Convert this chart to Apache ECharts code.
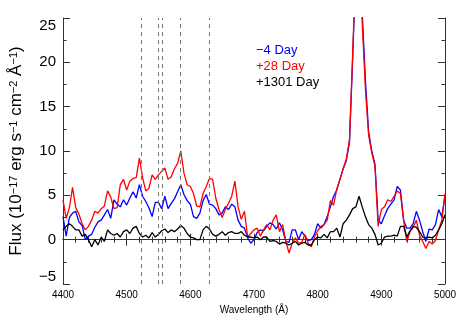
<!DOCTYPE html>
<html>
<head>
<meta charset="utf-8">
<script src="https://cdn.jsdelivr.net/npm/echarts@6/dist/echarts.min.js"></script>
<style>
  html, body { margin: 0; padding: 0; background: #fff; }
</style>
</head>
<body>
<div id="chart" style="width: 463px; height: 324px"></div>
<script>
// wavelength grid (Å)
const wavelength = [
  4400, 4405, 4410, 4415, 4420, 4425, 4430, 4435, 4440, 4445,
  4450, 4455, 4460, 4465, 4470, 4475, 4480, 4485, 4490, 4495,
  4500, 4505, 4510, 4515, 4520, 4525, 4530, 4535, 4540, 4545,
  4550, 4555, 4560, 4565, 4570, 4575, 4580, 4585, 4590, 4595,
  4600, 4605, 4610, 4615, 4620, 4625, 4630, 4635, 4640, 4645,
  4650, 4655, 4660, 4665, 4670, 4675, 4680, 4685, 4690, 4695,
  4700, 4705, 4710, 4715, 4720, 4725, 4730, 4735, 4740, 4745,
  4750, 4755, 4760, 4765, 4770, 4775, 4780, 4785, 4790, 4795,
  4800, 4805, 4810, 4815, 4820, 4825, 4830, 4835, 4840, 4845,
  4850, 4855, 4860, 4865, 4870, 4875, 4880, 4885, 4890, 4895,
  4900, 4905, 4910, 4915, 4920, 4925, 4930, 4935, 4940, 4945,
  4950, 4955, 4960, 4965, 4970, 4975, 4980, 4985, 4990, 4995,
  5000
]

// -4 Day
const fluxBlue = [
  2.6, 0.4, 2.5, 3.0, 3.2, 2.0, 1.6, 0.0, 0.4, 0.6,
  1.4, 2.0, 2.2, 2.8, 3.4, 2.4, 4.5, 4.0, 3.7, 4.5,
  3.9, 4.7, 5.4, 4.7, 6.2, 4.9, 4.3, 3.6, 2.6, 4.2,
  4.2, 3.5, 4.9, 3.5, 4.1, 4.6, 5.4, 6.2, 5.1, 4.4,
  4.0, 2.6, 2.4, 3.0, 4.4, 5.1, 4.0, 3.9, 3.5, 2.8,
  3.0, 3.7, 3.4, 4.0, 3.7, 2.2, 1.5, 1.3, 0.2, -0.4,
  0.0, 0.8, 1.1, 1.0, 1.5, 1.9, 1.7, 1.2, 1.9, 1.1,
  -0.2, -0.3, 1.1, 1.1, 0.0, 0.9, 0.4, -0.1, 0.0, 0.6,
  1.8, 1.3, 1.7, 2.6, 3.7, 4.9, 5.6, 6.8, 8.0, 8.9,
  11.0, 20.5, 31, 34, 25.5, 18, 12.2, 10.0, 8.5, 2.2,
  1.8, 2.7, 3.5, 4.0, 4.5, 6.0, 5.6, 2.2, 1.3, 1.3,
  1.8, 3.2, 2.2, 0.9, -0.2, 1.2, 1.1, 1.7, 3.4, 2.6,
  4.9
]

// +28 Day
const fluxRed = [
  4.5, 2.4, 3.6, 5.9, 3.6, 2.9, 1.8, 1.1, 1.5, 2.2,
  3.2, 3.0, 3.5, 3.8, 5.5, 4.8, 3.5, 3.6, 6.2, 6.8,
  5.6, 6.6, 6.9, 7.0, 9.2, 7.0, 5.5, 5.8, 7.3, 6.8,
  7.3, 7.7, 8.1, 6.8, 7.1, 8.0, 8.6, 10.0, 7.5, 6.2,
  6.0, 5.2, 3.8, 3.7, 5.2, 6.0, 6.9, 6.8, 4.7, 3.4,
  2.5, 3.4, 4.1, 4.9, 6.6, 3.7, 2.3, 3.2, 0.3, 0.7,
  1.1, 1.3, 0.4, 1.1, 1.7, 1.1, 2.2, 2.8, 0.9, 1.7,
  -0.2, -1.5, -0.4, 0.2, -0.4, -0.3, 0.6, -0.4, -0.8, 0.3,
  1.0, 1.5, 1.7, 2.2, 4.4, 3.9, 5.7, 6.8, 8.0, 9.1,
  11.3, 21, 31, 33, 24.5, 17, 11.8, 9.8, 8.3, 1.5,
  3.4, 3.7, 4.5, 4.3, 4.9, 5.5, 5.2, 2.2, -0.2, 0.9,
  1.4, 2.2, 0.5, -0.2, -1.0, -0.2, -0.5, -0.1, 1.1, 2.2,
  5.2
]

// +1301 Day
const fluxBlack = [
  1.1, 1.5, 1.8, 1.5, 1.1, 1.1, 0.4, 0.6, 0.0, -0.8,
  0.0, -0.6, 0.3, -0.2, 1.1, 0.7, 0.5, 0.7, 0.3, 0.9,
  1.1, 0.7, 1.3, 1.5, 0.7, 0.3, 0.5, 0.2, 0.8, 0.3,
  0.6, 1.0, 1.2, 0.8, 1.1, 0.9, 1.2, 1.6, 1.3, 0.7,
  0.3, 0.2, 0.0, 0.0, 1.1, 1.5, 1.2, 0.6, 0.4, 0.6,
  0.9, 0.5, 0.8, 0.9, 0.7, 0.7, 0.9, 0.5, 0.3, 0.3,
  0.2, 0.3, 0.0, 0.3, 0.3, -0.2, -0.1, -0.2, -0.5, -0.3,
  -0.4, -0.6, -0.4, -0.2, -0.6, -0.4, -0.3, -0.6, -0.6, 0.0,
  0.3, 0.2, 0.6, 0.2, 0.9, 0.9, 1.3, 0.3, 1.8, 2.2,
  2.8, 3.5, 3.7, 4.9, 3.7, 2.6, 1.7, 1.3, 0.6, -0.6,
  -0.4, 0.3, 0.4, 0.4, 0.5, 0.4, 1.5, 1.5, 0.3, 1.0,
  1.5, 1.4, 0.9, 0.3, 0.2, 0.3, 0.2, 0.5, 1.1, 1.8,
  2.8
]

// dashed line positions (Å)
const lineMarks = [4522.6, 4549.5, 4555.9, 4583.8, 4629.3]

const seriesNames = ['\u22124 Day', '+28 Day', '+1301 Day']
const seriesColors = ['#0000ff', '#ff0000', '#000000']
const seriesFlux = [fluxBlue, fluxRed, fluxBlack]

const axisColor = '#333'
const minus = v => (v < 0 ? '\u2212' + Math.abs(v) : String(v))

const xBase = {
  type: 'value',
  min: 4400,
  max: 5000,
  interval: 100,
  axisLine: { lineStyle: { color: axisColor, width: 1 } },
  axisTick: { inside: true, length: 6, lineStyle: { color: axisColor } },
  minorTick: { show: true, splitNumber: 5, length: 3, lineStyle: { color: axisColor } },
  splitLine: { show: false }
}
const yBase = {
  type: 'value',
  min: -5,
  max: 25,
  interval: 5,
  axisLine: { show: true, lineStyle: { color: axisColor, width: 1 } },
  axisTick: { show: true, inside: true, length: 7, lineStyle: { color: axisColor } },
  minorTick: { show: true, splitNumber: 2, length: 3.5, lineStyle: { color: axisColor } },
  splitLine: { show: false }
}

const chart = echarts.init(document.getElementById('chart'))

chart.setOption({
  animation: false,
  textStyle: { fontFamily: 'Liberation Sans' },
  grid: { left: 62, right: 18, top: 18, bottom: 40 },
  legend: {
    orient: 'vertical',
    left: 246,
    top: 38,
    itemGap: 2.5,
    itemWidth: 0,
    itemHeight: 14,
    icon: 'none',
    selectedMode: false,
    textStyle: { fontSize: 13 },
    data: seriesNames.map((n, i) => ({ name: n, textStyle: { color: seriesColors[i] } }))
  },
  xAxis: [
    {
      ...xBase,
      position: 'bottom',
      name: 'Wavelength (\u00c5)',
      nameLocation: 'middle',
      nameGap: 21,
      nameTextStyle: { fontSize: 10, color: '#000' },
      axisLabel: { fontSize: 10, color: '#000', margin: 6, formatter: v => String(v) }
    },
    { ...xBase, position: 'top', axisLabel: { show: false } }
  ],
  yAxis: [
    {
      ...yBase,
      position: 'left',
      name: 'Flux (10{sup|\u221217} erg s{sup|\u22121} cm{sup|\u22122} \u00c5{sup|\u22121})',
      nameLocation: 'middle',
      nameRotate: 90,
      nameGap: 38,
      nameTextStyle: {
        fontSize: 17,
        color: '#000',
        rich: { sup: { fontSize: 11, verticalAlign: 'top', color: '#000' } }
      },
      axisLabel: {
        fontSize: 15,
        color: '#000',
        margin: 7,
        formatter: minus,
        verticalAlignMaxLabel: 'top',
        verticalAlignMinLabel: 'bottom'
      }
    },
    { ...yBase, position: 'right', axisLabel: { show: false } }
  ],
  series: seriesNames.map((name, i) => ({
    name,
    type: 'line',
    showSymbol: false,
    clip: true,
    color: seriesColors[i],
    lineStyle: { color: seriesColors[i], width: 1.3 },
    data: wavelength.map((w, k) => [w, seriesFlux[i][k]]),
    markLine: i === 2 ? {
      silent: true,
      symbol: 'none',
      label: { show: false },
      lineStyle: { color: '#777', type: [4, 4], width: 1 },
      data: lineMarks.map(x => ({ xAxis: x }))
    } : undefined
  }))
})
</script>
</body>
</html>
